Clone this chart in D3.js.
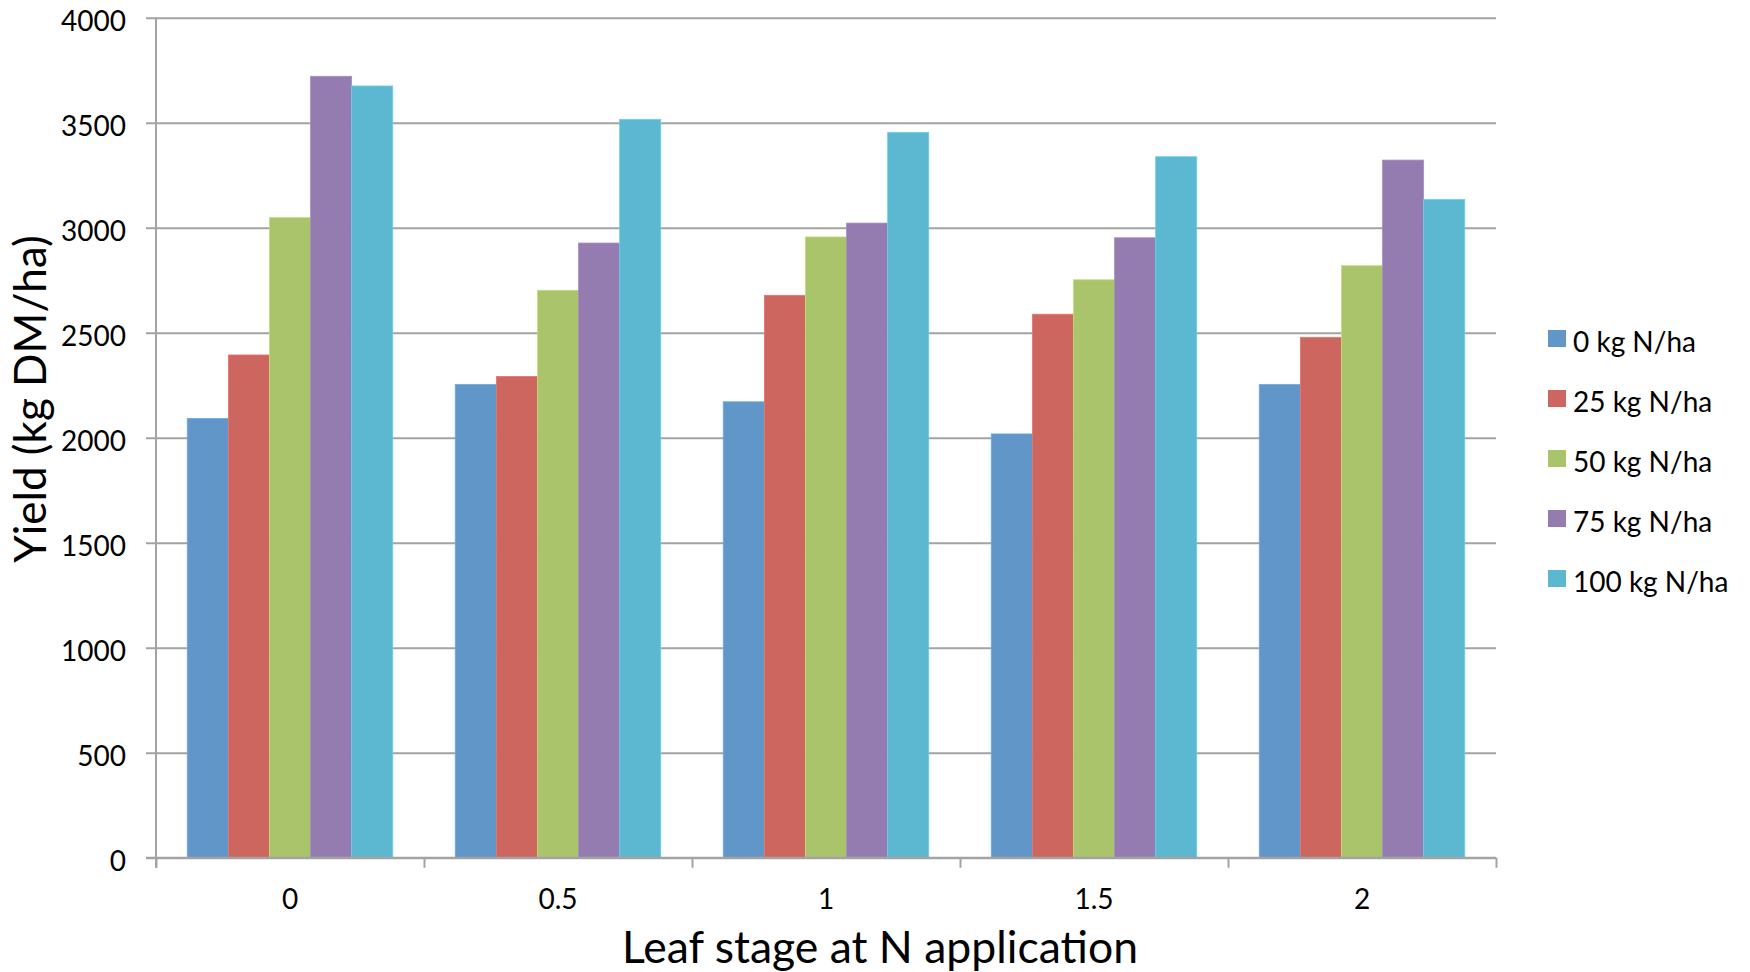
<!DOCTYPE html>
<html>
<head>
<meta charset="utf-8">
<script src="https://cdn.jsdelivr.net/npm/d3@7"></script>
<style>
  html, body { margin: 0; padding: 0; background: #ffffff; }
  svg { display: block; font-family: Lato, "Liberation Sans", sans-serif; }
</style>
</head>
<body>
<svg id="chart" width="1750" height="972"></svg>
<script>
// Leaf stage at which nitrogen was applied (x categories)
const stages = ["0", "0.5", "1", "1.5", "2"];

// Nitrogen rate series
const series = ["0 kg N/ha", "25 kg N/ha", "50 kg N/ha", "75 kg N/ha", "100 kg N/ha"];
const seriesColors = ["#6196C8", "#CD665F", "#AAC46C", "#947CB0", "#5CB8D1"];

// Yield (kg DM/ha) per series, one value per leaf stage
const yield0   = [2092, 2254, 2171, 2018, 2254];
const yield25  = [2394, 2292, 2678, 2588, 2478];
const yield50  = [3048, 2702, 2956, 2752, 2819];
const yield75  = [3721, 2927, 3022, 2952, 3322];
const yield100 = [3675, 3516, 3454, 3338, 3135];

const yTicks = [0, 500, 1000, 1500, 2000, 2500, 3000, 3500, 4000];

const seriesValues = [yield0, yield25, yield50, yield75, yield100];

const svg = d3.select("#chart");

const plot = { left: 156, right: 1496, top: 17.7, bottom: 857.7 };
const gridColor = "#a3a3a3";
const tickFont = 28;

const x = d3.scaleBand().domain(stages).range([plot.left, plot.right]).padding(0);
const xSub = d3.scaleBand().domain(series).range([0, x.bandwidth()])
  .paddingInner(0).paddingOuter(0.76);
const y = d3.scaleLinear().domain([0, 4000]).range([plot.bottom, plot.top]);

// Horizontal gridlines (extend slightly left of the axis as tick marks)
const grid = svg.append("g")
  .attr("transform", `translate(${plot.left - 10},0)`)
  .call(d3.axisRight(y).tickValues(yTicks).tickSize(plot.right - plot.left + 10).tickFormat(""));
grid.select(".domain").remove();
grid.selectAll(".tick line").attr("stroke", gridColor).attr("stroke-width", 2);

// Bars
const rows = stages.map((s, i) => ({ stage: s, values: series.map((k, j) => ({ key: k, color: seriesColors[j], value: seriesValues[j][i] })) }));

svg.append("g").selectAll("g")
  .data(rows)
  .join("g")
  .attr("transform", d => `translate(${x(d.stage)},0)`)
  .selectAll("rect")
  .data(d => d.values)
  .join("rect")
  .attr("x", d => xSub(d.key))
  .attr("width", xSub.bandwidth())
  .attr("y", d => y(d.value))
  .attr("height", d => y(0) - y(d.value))
  .attr("fill", d => d.color)
  .attr("stroke", d => d3.color(d.color).brighter(0.35))
  .attr("stroke-width", 0.8);

// Y axis line
svg.append("line")
  .attr("x1", plot.left).attr("x2", plot.left)
  .attr("y1", y(4000)).attr("y2", y(0) + 10)
  .attr("stroke", gridColor).attr("stroke-width", 2);

// X axis line
svg.append("line")
  .attr("x1", plot.left - 10).attr("x2", plot.right)
  .attr("y1", y(0)).attr("y2", y(0))
  .attr("stroke", gridColor).attr("stroke-width", 2);

// Category boundary tick marks
const boundary = d3.scaleLinear().domain([0, stages.length]).range([plot.left, plot.right]);
const bt = svg.append("g")
  .attr("transform", `translate(0,${y(0)})`)
  .call(d3.axisBottom(boundary).ticks(stages.length).tickSize(10).tickFormat(""));
bt.select(".domain").remove();
bt.selectAll(".tick line").attr("stroke", gridColor).attr("stroke-width", 2);

// Y tick labels
const yAxis = svg.append("g")
  .attr("transform", `translate(${plot.left},0)`)
  .call(d3.axisLeft(y).tickValues(yTicks).tickFormat(d3.format("d")).tickSize(0).tickPadding(30));
yAxis.select(".domain").remove();
yAxis.selectAll("text")
  .attr("font-family", "Lato, 'Liberation Sans', sans-serif")
  .attr("font-size", tickFont)
  .attr("fill", "#000")
  .attr("dy", "0.45em");

// X tick labels
const xAxis = svg.append("g")
  .attr("transform", `translate(0,${y(0)})`)
  .call(d3.axisBottom(x).tickSize(0).tickPadding(31));
xAxis.select(".domain").remove();
xAxis.selectAll("text")
  .attr("font-family", "Lato, 'Liberation Sans', sans-serif")
  .attr("font-size", tickFont)
  .attr("fill", "#000");

// Axis titles
svg.append("text")
  .attr("transform", "translate(46,399) rotate(-90)")
  .attr("text-anchor", "middle")
  .attr("font-size", 44)
  .attr("fill", "#000")
  .text("Yield (kg DM/ha)");

svg.append("text")
  .attr("x", 880)
  .attr("y", 963)
  .attr("text-anchor", "middle")
  .attr("font-size", 44.5)
  .attr("fill", "#000")
  .text("Leaf stage at N application");

// Legend
const legend = svg.append("g").attr("transform", "translate(1548,330)");
const item = legend.selectAll("g")
  .data(series)
  .join("g")
  .attr("transform", (d, i) => `translate(0,${i * 60})`);
item.append("rect")
  .attr("width", 18).attr("height", 17)
  .attr("fill", (d, i) => seriesColors[i]);
item.append("text")
  .attr("x", 25).attr("y", 22)
  .attr("font-size", tickFont)
  .attr("fill", "#000")
  .text(d => d);
</script>
</body>
</html>
